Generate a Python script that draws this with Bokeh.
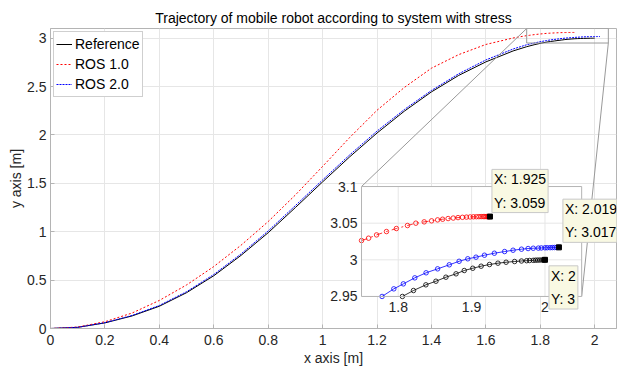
from bokeh.plotting import figure
from bokeh.models import Range1d, Legend, LegendItem
from bokeh.embed import file_html
from bokeh.resources import INLINE

FONT = "Liberation Sans"
TXT = "#262626"
AXC = "#b4b4b4"
GRID = "#e6e6e6"

# --- trajectories (x [m], y [m]) ---------------------------------------
ref_x = [0.0, 0.1, 0.2, 0.3, 0.4, 0.5, 0.6, 0.7, 0.8, 0.9, 1.0, 1.1, 1.2, 1.3,
         1.4, 1.5, 1.6, 1.7, 1.75, 1.78,
         1.8057, 1.8208, 1.8377, 1.8514, 1.865, 1.8788, 1.890, 1.9016, 1.913,
         1.9244, 1.9359, 1.947, 1.9586, 1.968, 1.975, 1.979, 1.984, 1.987,
         1.990, 1.993, 1.996, 1.998, 2.0]
ref_y = [0.0, 0.012, 0.058, 0.13, 0.23, 0.37, 0.545, 0.755, 0.99, 1.25, 1.515,
         1.775, 2.02, 2.245, 2.445, 2.615, 2.755, 2.868, 2.912, 2.934,
         2.95, 2.9581, 2.9659, 2.9708, 2.9763, 2.9809, 2.9854, 2.9885, 2.9913,
         2.9936, 2.9954, 2.9967, 2.9977, 2.9984, 2.9988, 2.9991, 2.9993, 2.9995,
         2.9996, 2.9997, 2.9998, 2.9999, 3.0]

ros1_x = [0.0, 0.1, 0.2, 0.3, 0.4, 0.5, 0.6, 0.7, 0.8, 0.9, 1.0, 1.1, 1.2, 1.3,
          1.4, 1.5, 1.6, 1.7, 1.75,
          1.7596, 1.7705, 1.784, 1.7975, 1.8126, 1.824, 1.8354, 1.8455, 1.8537,
          1.8605, 1.868, 1.875, 1.8815, 1.8875, 1.893, 1.898, 1.9025, 1.9065,
          1.910, 1.913, 1.9158, 1.918, 1.920, 1.9217, 1.923, 1.924, 1.925]
ros1_y = [0.0, 0.015, 0.07, 0.16, 0.29, 0.45, 0.64, 0.86, 1.105, 1.38, 1.675,
          1.975, 2.255, 2.49, 2.69, 2.83, 2.935, 3.002, 3.0263,
          3.0295, 3.034, 3.0386, 3.0427, 3.0468, 3.050, 3.0518, 3.0532, 3.0545,
          3.0554, 3.0563, 3.057, 3.0576, 3.058, 3.0583, 3.0585, 3.0587, 3.0588,
          3.0589, 3.059, 3.059, 3.059, 3.059, 3.059, 3.059, 3.059, 3.059]

ros2_x = [0.0, 0.1, 0.2, 0.3, 0.4, 0.5, 0.6, 0.7, 0.8, 0.9, 1.0, 1.1, 1.2, 1.3,
          1.4, 1.5, 1.6, 1.7, 1.75,
          1.778, 1.794, 1.807, 1.8226, 1.838, 1.8537, 1.8696, 1.883, 1.8948,
          1.906, 1.9175, 1.931, 1.945, 1.9565, 1.968, 1.977, 1.984, 1.991,
          1.995, 2.0, 2.003, 2.007, 2.010, 2.013, 2.016, 2.019]
ros2_y = [0.0, 0.012, 0.06, 0.135, 0.238, 0.38, 0.558, 0.77, 1.008, 1.27, 1.535,
          1.795, 2.04, 2.262, 2.46, 2.632, 2.775, 2.888, 2.932,
          2.95, 2.9604, 2.9672, 2.9754, 2.9823, 2.9877, 2.9932, 2.998, 3.0014,
          3.0036, 3.0063, 3.009, 3.0113, 3.0131, 3.0145, 3.0154, 3.0158, 3.016,
          3.0162, 3.0164, 3.0165, 3.0166, 3.0167, 3.0168, 3.0169, 3.017]

# final positions marked with data tips
tip_x = [1.925, 2.019, 2.0]
tip_y = [3.059, 3.017, 3.0]

x_ticks = [0, 0.2, 0.4, 0.6, 0.8, 1, 1.2, 1.4, 1.6, 1.8, 2]
y_ticks = [0, 0.5, 1, 1.5, 2, 2.5, 3]

# zoomed window and its ticks
zoom_x = [1.75, 2.05]
zoom_y = [2.95, 3.1]
inset_xticks = [1.8, 1.9, 2.0]
inset_yticks = [2.95, 3.0, 3.05, 3.1]

# where the zoom panel sits, in main-axis units
panel_x = [1.143, 1.952]
panel_y = [0.331, 1.467]

p = figure(width=617, height=369, output_backend="svg", toolbar_location=None,
           x_range=Range1d(0, 2.08), y_range=Range1d(0, 3.1),
           min_border_left=50, min_border_right=1, min_border_top=28,
           min_border_bottom=41,
           title="Trajectory of mobile robot according to system with stress")
p.background_fill_color = "white"
p.border_fill_color = "white"
p.outline_line_color = AXC

p.title.text_font = FONT
p.title.text_font_size = "14px"
p.title.text_font_style = "normal"
p.title.text_color = "black"
p.title.align = "center"
p.title.vertical_align = "middle"
p.title.standoff = 4

for ax, ticks in ((p.xaxis[0], x_ticks), (p.yaxis[0], y_ticks)):
    ax.ticker = ticks
    ax.major_label_overrides = {t: f"{t:g}" for t in ticks}
    ax.major_label_text_font = FONT
    ax.major_label_text_font_size = "14px"
    ax.major_label_text_color = TXT
    ax.axis_label_text_font = FONT
    ax.axis_label_text_font_size = "14px"
    ax.axis_label_text_font_style = "normal"
    ax.axis_label_text_color = TXT
    ax.axis_line_color = AXC
    ax.major_tick_line_color = AXC
    ax.major_tick_in = 4
    ax.major_tick_out = 0
    ax.minor_tick_line_color = None

p.xaxis.axis_label = "x axis [m]"
p.yaxis.axis_label = "y axis [m]"
p.xaxis.major_label_standoff = 6
p.xaxis.axis_label_standoff = 2
p.yaxis.major_label_standoff = 4
p.yaxis.axis_label_standoff = 0

p.grid.grid_line_color = GRID

# --- main trajectories ---------------------------------------------------
r_ref = p.line(ref_x, ref_y, line_color="black", line_width=1)
r_ros1 = p.line(ros1_x, ros1_y, line_color="red", line_width=1, line_dash="2 2")
r_ros2 = p.line(ros2_x, ros2_y, line_color="blue", line_width=1, line_dash="2 1")

legend = Legend(items=[LegendItem(label="Reference", renderers=[r_ref]),
                       LegendItem(label="ROS 1.0", renderers=[r_ros1]),
                       LegendItem(label="ROS 2.0", renderers=[r_ros2])],
                location="top_left", margin=3, padding=2, spacing=0,
                glyph_width=16, glyph_height=20, label_height=20,
                label_standoff=3, label_text_font=FONT,
                label_text_font_size="14px", label_text_color="black",
                border_line_color="#a0a0a0", background_fill_alpha=1)
p.add_layout(legend)

# --- zoom window marker and connector lines --------------------------------
p.quad(left=zoom_x[0], right=zoom_x[1], bottom=zoom_y[0], top=zoom_y[1],
       fill_alpha=0, line_color="#999999", line_width=1)
p.segment(x0=[zoom_x[0], zoom_x[1]], y0=[zoom_y[1], zoom_y[0]],
          x1=[panel_x[0], panel_x[1]], y1=[panel_y[1], panel_y[0]],
          line_color="#999999", line_width=1)

# --- zoom panel ------------------------------------------------------------
inset = p.subplot(x_source=Range1d(*zoom_x), y_source=Range1d(*zoom_y),
                  x_target=Range1d(*panel_x), y_target=Range1d(*panel_y))

inset.quad(left=zoom_x[0], right=zoom_x[1], bottom=zoom_y[0], top=zoom_y[1],
           fill_color="white", line_color=None)
inset.segment(x0=inset_xticks, y0=[zoom_y[0]] * len(inset_xticks),
              x1=inset_xticks, y1=[zoom_y[1]] * len(inset_xticks),
              line_color=GRID, line_width=1)
inset.segment(x0=[zoom_x[0]] * len(inset_yticks), y0=inset_yticks,
              x1=[zoom_x[1]] * len(inset_yticks), y1=inset_yticks,
              line_color=GRID, line_width=1)


def in_window(xs, ys):
    pts = [(x, y) for x, y in zip(xs, ys)
           if zoom_x[0] <= x <= zoom_x[1] and zoom_y[0] <= y <= zoom_y[1]]
    return [a for a, _ in pts], [b for _, b in pts]


for xs, ys, col, dash in ((ref_x, ref_y, "black", "solid"),
                          (ros2_x, ros2_y, "blue", "solid"),
                          (ros1_x, ros1_y, "red", "dashdot")):
    wx, wy = in_window(xs, ys)
    inset.line(wx, wy, line_color=col, line_width=0.8, line_dash=dash)
    inset.scatter(wx, wy, marker="circle", size=4.5, fill_alpha=0,
                  line_color=col, line_width=0.8)

inset.quad(left=zoom_x[0], right=zoom_x[1], bottom=zoom_y[0], top=zoom_y[1],
           fill_alpha=0, line_color=AXC, line_width=1)

inset.text(x=inset_xticks, y=[zoom_y[0]] * len(inset_xticks),
           text=[f"{t:g}" for t in inset_xticks], text_align="center",
           text_baseline="top", y_offset=6, text_font={"value": FONT},
           text_font_size="14px", text_color=TXT)
inset.text(x=[zoom_x[0]] * len(inset_yticks), y=inset_yticks,
           text=[f"{t:g}" for t in inset_yticks], text_align="right",
           text_baseline="middle", x_offset=-4, text_font={"value": FONT},
           text_font_size="14px", text_color=TXT)

# --- data tips ------------------------------------------------------------
inset.scatter(tip_x, tip_y, marker="square", size=5, color="black")

tip_style = [("left", "bottom", 2, -4), ("left", "bottom", 4, -5),
             ("left", "top", 4, 6)]
for (tx, ty), (al, bl, dx, dy) in zip(zip(tip_x, tip_y), tip_style):
    inset.text(x=[tx], y=[ty], text=[f"X: {tx:g}\nY: {ty:g}"],
               text_align=al, text_baseline=bl, x_offset=dx, y_offset=dy,
               text_font={"value": FONT}, text_font_size="14px",
               text_color="black", text_line_height=1.45, padding=2,
               background_fill_color="#f9f9e3", border_line_color="#c8c8c8",
               border_line_width=1)

open("out.html", "w").write(file_html(p, INLINE))
